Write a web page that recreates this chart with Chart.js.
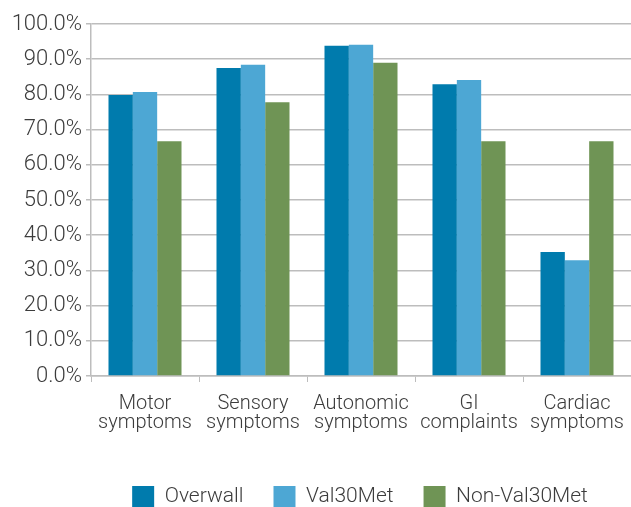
<!DOCTYPE html>
<html>
<head>
<meta charset="utf-8">
<script src="https://cdn.jsdelivr.net/npm/chart.js@4"></script>
<style>
  html, body { margin:0; padding:0; background:#fff; overflow:hidden; }
  #wrap { width:631px; height:517px; }
</style>
</head>
<body>
<div id="wrap"><canvas id="chart" width="631" height="517"></canvas></div>
<script>
// ====== data ======
const categories = [
  ['Motor', 'symptoms'],
  ['Sensory', 'symptoms'],
  ['Autonomic', 'symptoms'],
  ['GI', 'complaints'],
  ['Cardiac', 'symptoms']
];
const overwallVals = [79.8, 87.5, 93.8, 82.9, 35.2];
const val30Met     = [80.7, 88.4, 94.1, 84.1, 32.9];
const nonVal30Met  = [66.7, 77.8, 89.0, 66.7, 66.7];
const yTicks = [0, 10, 20, 30, 40, 50, 60, 70, 80, 90, 100];

const FONT = 'Roboto, "Liberation Sans", sans-serif';
const gridColor = '#bdbdbd';
const textColor = '#3c3c3c';

// legend centred roughly over the plot area, not the whole canvas
const legendOverPlot = {
  id: 'legendOverPlot',
  afterLayout(chart) {
    if (chart.legend) chart.legend.left = chart.chartArea.left - 2;
  }
};

const ctx = document.getElementById('chart').getContext('2d');
new Chart(ctx, {
  type: 'bar',
  data: {
    labels: categories,
    datasets: [
      { label: 'Overwall',     data: overwallVals, backgroundColor: '#007bad' },
      { label: 'Val30Met',     data: val30Met,     backgroundColor: '#4da7d4' },
      { label: 'Non-Val30Met', data: nonVal30Met,  backgroundColor: '#6f9455' }
    ]
  },
  plugins: [legendOverPlot],
  options: {
    responsive: false,
    animation: false,
    layout: { padding: { top: 24, left: 0, right: 0, bottom: 0 } },
    datasets: { bar: { categoryPercentage: 0.676, barPercentage: 1.0 } },
    plugins: {
      tooltip: { enabled: false },
      legend: {
        position: 'bottom',
        labels: {
          boxWidth: 22,
          boxHeight: 21,
          padding: 30,
          color: textColor,
          font: { family: FONT, size: 21, weight: '300' }
        }
      }
    },
    scales: {
      x: {
        grid: { display: true, drawOnChartArea: false, drawTicks: true, tickLength: 6, color: gridColor, offset: true },
        border: { color: gridColor, width: 1.5 },
        ticks: {
          color: textColor, padding: 12, maxRotation: 0,
          font: { family: FONT, size: 20, weight: '300', lineHeight: 0.95 }
        },
        afterFit: (axis) => { axis.height = 80; axis.paddingLeft = 0; axis.paddingRight = 0; }
      },
      y: {
        min: 0, max: 100,
        afterBuildTicks: (axis) => { axis.ticks = yTicks.map(v => ({ value: v })); },
        grid: { color: gridColor, lineWidth: 1.5, tickLength: 5 },
        border: { color: gridColor, width: 1.5 },
        ticks: {
          color: textColor, padding: 4,
          font: { family: FONT, size: 22, weight: '300' },
          callback: (v) => v.toFixed(1) + '%'
        },
        afterFit: (axis) => { axis.width = 91; }
      }
    }
  }
});
</script>
</body>
</html>
